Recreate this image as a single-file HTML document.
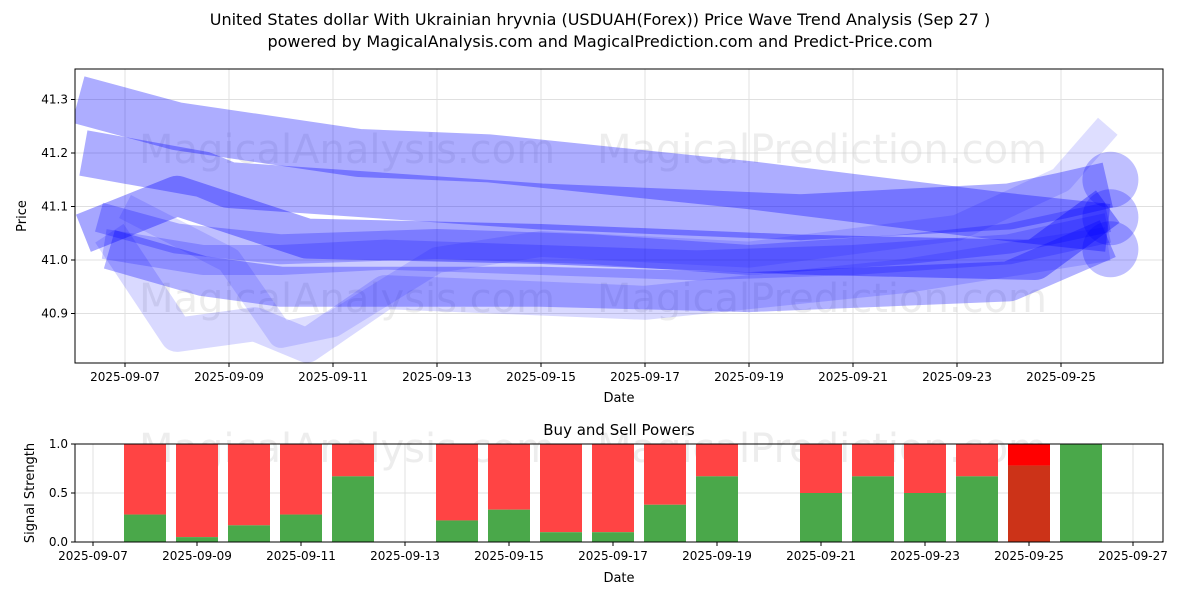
<!DOCTYPE html>
<html><head><meta charset="utf-8"><style>
body{margin:0;background:#fff;font-family:"Liberation Sans","DejaVu Sans",sans-serif;}
svg text{font-family:"DejaVu Sans","Liberation Sans",sans-serif;}
</style></head><body>
<svg id="c" width="1200" height="600" xmlns="http://www.w3.org/2000/svg">
<defs><clipPath id="cp"><rect x="75" y="69" width="1088" height="294"/></clipPath></defs>
<text x="600" y="25" text-anchor="middle" font-size="16" fill="#000">United States dollar With Ukrainian hryvnia (USDUAH(Forex)) Price Wave Trend Analysis (Sep 27 )</text>
<text x="600" y="47" text-anchor="middle" font-size="16" fill="#000">powered by MagicalAnalysis.com and MagicalPrediction.com and Predict-Price.com</text>
<g id="topg"></g>
<g id="botg"></g>
</svg>
<script>
const waveDays = [
 [-0.9,1,4.5,7,12,17,18.9],
 [-0.8,1.5,2,8,13,17,18,18.9],
 [-0.8,1,3.5,8,13,17.5,18.9],
 [-0.3,1.5,3,8,12,17,18.9],
 [-0.3,1,2.5,3.5,5,10,15,18.9],
 [0,2,3,4,6,8,12,16,18,18.9],
 [-0.5,1,3,6,9,12,15,17,18.9],
 [-0.4,1.5,3,5,8,11,14,17,18.9]
];
const wavePrices = [
 [41.3,41.25,41.2,41.19,41.14,41.08,41.06],
 [41.2,41.16,41.14,41.1,41.08,41.1,41.12,41.14],
 [41.05,41.12,41.04,41.03,41.01,41.0,41.1],
 [41.02,40.97,40.95,40.95,40.94,40.96,41.04],
 [41.05,40.86,40.88,40.84,40.94,40.92,40.97,41.03],
 [41.1,41.0,40.86,40.88,41.0,41.03,41.01,41.06,41.15,41.25],
 [41.08,41.04,41.02,41.03,41.02,41.0,41.02,41.04,41.08],
 [41.03,41.0,41.0,41.01,41.0,40.99,41.0,41.02,41.06]
];
const waveWidths=[48,46,40,40,34,26,30,30];
const waveOpac=[0.32,0.32,0.35,0.3,0.15,0.13,0.25,0.2];
const endPrices=[41.15,41.08,41.02];
const xTickLabels=["2025-09-07","2025-09-09","2025-09-11","2025-09-13","2025-09-15","2025-09-17","2025-09-19","2025-09-21","2025-09-23","2025-09-25"];
const yTicks=[40.9,41.0,41.1,41.2,41.3];
const barDays=["09-08","09-09","09-10","09-11","09-12","09-14","09-15","09-16","09-17","09-18","09-19","09-21","09-22","09-23","09-24","09-25","09-26"];
const buyVals=[0.28,0.05,0.17,0.28,0.67,0.22,0.33,0.1,0.1,0.38,0.67,0.5,0.67,0.5,0.67,0.78,1.0];
const barIdx=[1,2,3,4,5,7,8,9,10,11,12,14,15,16,17,18,19];
const bTickLabels=["2025-09-07","2025-09-09","2025-09-11","2025-09-13","2025-09-15","2025-09-17","2025-09-19","2025-09-21","2025-09-23","2025-09-25","2025-09-27"];
const sTicks=[0,0.5,1.0];

const NS="http://www.w3.org/2000/svg";
function mk(p,t,a){const e=document.createElementNS(NS,t);for(const k in a)e.setAttribute(k,a[k]);p.appendChild(e);return e;}
const tg=document.getElementById('topg'),bg=document.getElementById('botg');
const L=75,R=1163,T=69,B=363;
const X=d=>125+52*d, Y=p=>260-(p-41.0)*535;
mk(tg,'rect',{x:L,y:T,width:R-L,height:B-T,fill:'#fff'});
xTickLabels.forEach((s,i)=>{const x=X(i*2);mk(tg,'line',{x1:x,x2:x,y1:T,y2:B,stroke:'#e0e0e0'});mk(tg,'line',{x1:x,x2:x,y1:B,y2:B+4,stroke:'#000'});
 const t=mk(tg,'text',{x:x,y:B+18,'text-anchor':'middle','font-size':12});t.textContent=s;
 
 });
yTicks.forEach(v=>{const y=Y(v);mk(tg,'line',{x1:L,x2:R,y1:y,y2:y,stroke:'#e0e0e0'});mk(tg,'line',{x1:L-4,x2:L,y1:y,y2:y,stroke:'#000'});
 const t=mk(tg,'text',{x:L-7,y:y+4,'text-anchor':'end','font-size':12});t.textContent=v.toFixed(1);
 
 });
[[347,163,'MagicalAnalysis.com'],[822,163,'MagicalPrediction.com'],[347,312,'MagicalAnalysis.com'],[822,312,'MagicalPrediction.com']].forEach(w=>{
 const t=mk(tg,'text',{x:w[0],y:w[1],'text-anchor':'middle','font-size':40,fill:'#ccc','fill-opacity':0.35});t.textContent=w[2];});
const cg=mk(tg,'g',{'clip-path':'url(#cp)'});
waveDays.forEach((ds,i)=>{const pts=ds.map((d,j)=>X(d)+','+Y(wavePrices[i][j])).join(' ');
 const pl=mk(cg,'polyline',{points:pts,fill:'none',stroke:'#0000ff','stroke-opacity':waveOpac[i],'stroke-width':waveWidths[i],'stroke-linejoin':'round'});
 
 });
endPrices.forEach(p=>{const c=mk(cg,'circle',{cx:X(18.95),cy:Y(p),r:28,fill:'#0000ff','fill-opacity':0.25});
 
 });
mk(tg,'rect',{x:L,y:T,width:R-L,height:B-T,fill:'none',stroke:'#000'});
const xl=mk(tg,'text',{x:619,y:402,'text-anchor':'middle','font-size':13});xl.textContent='Date';
const yl=mk(tg,'text',{x:26,y:216,'text-anchor':'middle','font-size':13,transform:'rotate(-90 26 216)'});yl.textContent='Price';

const bT=444,bB=542;
const BX=d=>93+52*d, BY=v=>bB-v*98;
mk(bg,'rect',{x:L,y:bT,width:R-L,height:bB-bT,fill:'#fff'});
bTickLabels.forEach((s,i)=>{const x=BX(i*2);mk(bg,'line',{x1:x,x2:x,y1:bT,y2:bB,stroke:'#e0e0e0'});mk(bg,'line',{x1:x,x2:x,y1:bB,y2:bB+4,stroke:'#000'});
 const t=mk(bg,'text',{x:x,y:bB+18,'text-anchor':'middle','font-size':12});t.textContent=s;});
sTicks.forEach(v=>{const y=BY(v);mk(bg,'line',{x1:L,x2:R,y1:y,y2:y,stroke:'#e0e0e0'});mk(bg,'line',{x1:L-4,x2:L,y1:y,y2:y,stroke:'#000'});
 const t=mk(bg,'text',{x:L-7,y:y+4,'text-anchor':'end','font-size':12});t.textContent=v.toFixed(1);});
[[347,462,'MagicalAnalysis.com'],[822,462,'MagicalPrediction.com']].forEach(w=>{
 const t=mk(bg,'text',{x:w[0],y:w[1],'text-anchor':'middle','font-size':40,fill:'#ccc','fill-opacity':0.35});t.textContent=w[2];});
barIdx.forEach((d,i)=>{const x=BX(d)-21,v=buyVals[i];const hl=(barDays[i]==='09-25');
 const r=mk(bg,'rect',{x:x,y:BY(1),width:42,height:BY(v)-BY(1),fill:hl?'#ff0000':'#ff4444'});
 
 
 const g=mk(bg,'rect',{x:x,y:BY(v),width:42,height:bB-BY(v),fill:hl?'#cc3318':'#4aa84a'});
 
 });
mk(bg,'rect',{x:L,y:bT,width:R-L,height:bB-bT,fill:'none',stroke:'#000'});
const bt=mk(bg,'text',{x:619,y:435,'text-anchor':'middle','font-size':15});bt.textContent='Buy and Sell Powers';
const bxl=mk(bg,'text',{x:619,y:582,'text-anchor':'middle','font-size':13});bxl.textContent='Date';
const byl=mk(bg,'text',{x:34,y:493,'text-anchor':'middle','font-size':13,transform:'rotate(-90 34 493)'});byl.textContent='Signal Strength';
</script>
</body></html>
